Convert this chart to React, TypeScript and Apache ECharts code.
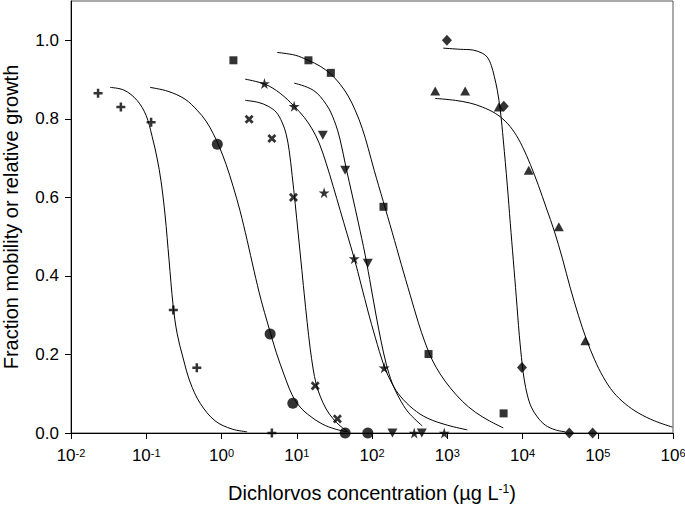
import React, { useEffect, useRef } from 'react';
import * as echarts from 'echarts';

// Measured data (x: Dichlorvos concentration µg/L, y: fraction)
const plusPoints = [[0.0229, 0.865], [0.046, 0.83], [0.116, 0.791], [0.229, 0.313], [0.47, 0.166], [4.67, 0]];
const plusCurve = [[0.033, 0.88], [0.0507, 0.873], [0.0754, 0.847], [0.0994, 0.809], [0.1194, 0.756], [0.1392, 0.7], [0.1573, 0.641], [0.1778, 0.555], [0.201, 0.44], [0.2272, 0.326], [0.2568, 0.254], [0.3087, 0.191], [0.3823, 0.13], [0.5191, 0.076], [0.8219, 0.031], [1.384, 0.01], [2.19, 0.003]];

const circlePoints = [[0.88, 0.735], [4.43, 0.252], [8.87, 0.076], [44, 0], [88, 0]];
const circleCurve = [[0.1123, 0.88], [0.195, 0.87], [0.3281, 0.85], [0.4737, 0.822], [0.624, 0.794], [0.7731, 0.763], [0.9292, 0.73], [1.1511, 0.684], [1.4264, 0.628], [1.7674, 0.565], [2.19, 0.491], [2.7137, 0.412], [3.3626, 0.338], [4.1667, 0.275], [5.3215, 0.206], [6.796, 0.148], [8.6862, 0.097], [11.1, 0.066], [15.07, 0.043], [21.76, 0.023], [32.4, 0.01], [46.8, 0.003]];

const crossPoints = [[2.33, 0.799], [4.67, 0.75], [9.04, 0.6], [17.6, 0.12], [34.7, 0.036]];
const crossCurve = [[2.06, 0.847], [3.066, 0.842], [4.167, 0.832], [5.3215, 0.817], [6.394, 0.791], [7.228, 0.761], [7.924, 0.72], [8.686, 0.656], [9.522, 0.585], [10.44, 0.509], [11.44, 0.433], [12.54, 0.356], [13.75, 0.282], [15.07, 0.216], [16.52, 0.163], [18.11, 0.125], [20.47, 0.094], [24.6, 0.061], [30.49, 0.036], [37.77, 0.018], [48.26, 0.003]];

const starPoints = [[3.72, 0.89], [9.23, 0.832], [23.1, 0.612], [58, 0.444], [145, 0.166], [364, 0], [912, 0]];
const starCurve = [[2.06, 0.901], [3.8, 0.888], [6.016, 0.865], [9.235, 0.832], [12.54, 0.804], [16.02, 0.774], [19.86, 0.738], [24.6, 0.687], [30.49, 0.628], [37.77, 0.567], [46.8, 0.506], [57.98, 0.445], [71.83, 0.377], [89.01, 0.308], [110.3, 0.244], [145.3, 0.17], [185.6, 0.125], [237.1, 0.094], [353.1, 0.061], [542, 0.038], [1000, 0.02], [1845, 0.008]];

const triDownPoints = [[22.2, 0.758], [44, 0.669], [88, 0.432], [187, 0], [459, 0]];
const triDownCurve = [[9.235, 0.891], [16.52, 0.873], [24.6, 0.837], [31.43, 0.796], [37.77, 0.746], [45.39, 0.674], [54.54, 0.606], [65.54, 0.537], [81.21, 0.453], [97.59, 0.369], [113.7, 0.298], [132.6, 0.232], [154.5, 0.176], [185.6, 0.127], [229.9, 0.089], [302.9, 0.053], [465.1, 0.018]];

const squarePoints = [[1.44, 0.949], [14.3, 0.949], [28.4, 0.917], [142, 0.576], [564, 0.201], [5610, 0.05]];
const squareCurve = [[5.488, 0.969], [9.522, 0.962], [14.18, 0.949], [20.47, 0.934], [28.67, 0.913], [37.77, 0.888], [48.26, 0.858], [59.78, 0.822], [74.09, 0.776], [89.01, 0.725], [106.9, 0.669], [140.9, 0.59], [185.6, 0.511], [244.5, 0.43], [322.1, 0.351], [411.6, 0.282], [509.9, 0.229], [631.8, 0.186], [807.1, 0.15], [1096, 0.115], [1583, 0.081], [2357, 0.053], [3618, 0.031], [5555, 0.013]];

const diamondPoints = [[990, 1.0], [5640, 0.832], [9840, 0.167], [41900, 0], [85500, 0]];
const diamondCurve = [[884.7, 0.98], [1489, 0.977], [2217, 0.975], [2920, 0.967], [3403, 0.957], [3847, 0.936], [4217, 0.908], [4623, 0.873], [5068, 0.822], [5555, 0.746], [6280, 0.631], [6884, 0.534], [7547, 0.44], [8273, 0.346], [9067, 0.249], [9938, 0.173], [10565, 0.135], [11582, 0.097], [13093, 0.066], [15730, 0.041], [20100, 0.02], [27300, 0.008], [37080, 0.003]];

const triPoints = [[692, 0.871], [1730, 0.871], [4840, 0.83], [12100, 0.669], [30400, 0.525], [68400, 0.235]];
const triCurve = [[692.4, 0.852], [1278, 0.847], [2022, 0.84], [2920, 0.83], [4347, 0.814], [5906, 0.794], [7780, 0.766], [9938, 0.73], [12700, 0.684], [16226, 0.631], [20725, 0.573], [26475, 0.514], [33826, 0.445], [43210, 0.369], [55210, 0.3], [70530, 0.239], [90110, 0.188], [118700, 0.142], [161300, 0.104], [232800, 0.074], [346700, 0.051], [565700, 0.031], [982000, 0.015]];

const yTicks = [0, 0.2, 0.4, 0.6, 0.8, 1.0];

const FONT = '"Liberation Sans", Arial, sans-serif';
const PLUS = 'path://M3.6,0H6.4V3.6H10V6.4H6.4V10H3.6V6.4H0V3.6H3.6Z';
const STAR = 'path://M50,0L61,35L98,35L68,57L79,91L50,70L21,91L32,57L2,35L39,35Z';

export default function App() {
  const ref = useRef<HTMLDivElement>(null);
  useEffect(() => {
    document.body.style.margin = '0';
    const chart = echarts.init(ref.current!, null, { renderer: 'svg' });
    const curve = (data: number[][]) => ({
      type: 'line', data, showSymbol: false, smooth: 0.35,
      lineStyle: { color: '#000', width: 1 }, z: 2, silent: true,
    });
    const pts = (data: number[][], symbol: string, size: any, rotate = 0) => ({
      type: 'scatter', data, symbol, symbolSize: size, symbolRotate: rotate, clip: false,
      itemStyle: { color: '#000' }, z: 3, silent: true,
    });
    chart.setOption({
      animation: false,
      grid: {
        left: 71, right: 12, top: 1, bottom: 73, containLabel: false, outerBoundsMode: 'none',
        show: true, borderColor: '#555', borderWidth: 1,
      },
      xAxis: {
        type: 'log', logBase: 10, min: 0.01, max: 1e6, splitNumber: 8,
        axisLine: { lineStyle: { color: '#000', width: 1 } },
        axisTick: { show: true, length: 6, lineStyle: { color: '#000' } },
        splitLine: { show: false },
        minorTick: { show: false },
        axisLabel: {
          margin: 14,
          formatter: (v: number) => `{b|10}{s|${Math.round(Math.log10(v))}}`,
          rich: {
            b: { fontSize: 17, fontFamily: FONT, color: '#000' },
            s: { fontSize: 11, fontFamily: FONT, color: '#000', verticalAlign: 'top' },
          },
        },
        name: '{a|Dichlorvos concentration (\u00b5g L}{s|-1}{a|)}',
        nameLocation: 'middle', nameGap: 50,
        nameTextStyle: {
          rich: {
            a: { fontSize: 20, fontFamily: FONT, color: '#000' },
            s: { fontSize: 12, fontFamily: FONT, color: '#000', verticalAlign: 'top' },
          },
        },
      },
      yAxis: {
        type: 'value', min: 0, max: 1.1, interval: 0.2,
        axisLine: { show: true, lineStyle: { color: '#000', width: 1 } },
        axisTick: { show: true, length: 6, customValues: yTicks, lineStyle: { color: '#000' } },
        splitLine: { show: false },
        axisLabel: {
          customValues: yTicks, margin: 12, fontSize: 17, fontFamily: FONT, color: '#000',
          formatter: (v: number) => v.toFixed(1),
        },
        name: 'Fraction mobility or relative growth',
        nameLocation: 'middle', nameGap: 50,
        nameTextStyle: { fontSize: 20, fontFamily: FONT, color: '#000' },
      },
      series: [
        curve(plusCurve), curve(circleCurve), curve(crossCurve), curve(starCurve),
        curve(triDownCurve), curve(squareCurve), curve(diamondCurve), curve(triCurve),
        pts(plusPoints, PLUS, 9),
        pts(circlePoints, 'circle', 11),
        pts(crossPoints, PLUS, 10, 45),
        pts(starPoints, STAR, 11),
        pts(triDownPoints, 'triangle', [10, 9], 180),
        pts(squarePoints, 'rect', 8),
        pts(diamondPoints, 'diamond', [10, 11]),
        pts(triPoints, 'triangle', [10, 9]),
      ],
    });
    return () => chart.dispose();
  }, []);
  return <div ref={ref} style={{ width: 685, height: 506 }} />;
}
